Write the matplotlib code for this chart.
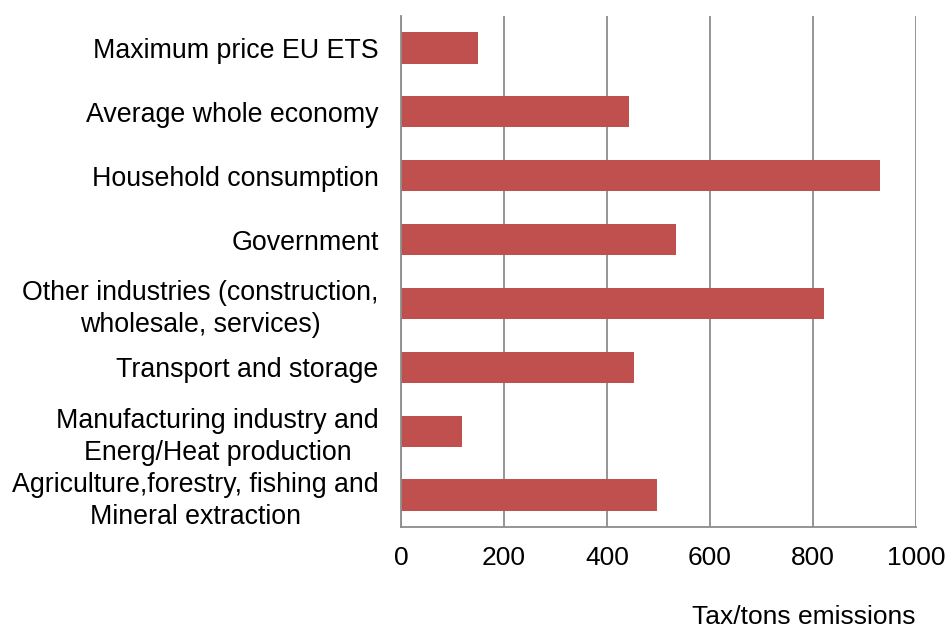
import matplotlib
matplotlib.use("Agg")
import matplotlib.pyplot as plt

categories = [
    "Maximum price EU ETS",
    "Average whole economy",
    "Household consumption",
    "Government",
    "Other industries (construction,\nwholesale, services)",
    "Transport and storage",
    "Manufacturing industry and\nEnerg/Heat production",
    "Agriculture,forestry, fishing and\nMineral extraction",
]
values = [150, 443, 930, 534, 821, 452, 118, 497]
xticks = [0, 200, 400, 600, 800, 1000]

plt.rcParams['font.family'] = ['Liberation Sans', 'DejaVu Sans']

fig = plt.figure(figsize=(9.47, 6.28), dpi=100)
ax = fig.add_axes([0.4234, 0.1608, 0.5439, 0.8137])

pos = list(range(len(categories)))
ax.barh(pos, values, height=0.49, color='#C0504D', zorder=3)

ax.set_ylim(len(categories) - 0.5, -0.5)
ax.set_xlim(0, 1000)
ax.set_yticks(pos)
ax.set_yticklabels(categories, fontsize=19.3, ha='right', multialignment='center',
                   linespacing=1.3)
ax.set_xticks(xticks)
ax.set_xticklabels([str(t) for t in xticks], fontsize=19)

ax.grid(axis='x', color='#8c8c8c', linewidth=1.3, zorder=0)
ax.tick_params(axis='y', length=0, pad=16)
ax.tick_params(axis='x', length=0, pad=14)
for s in ['top', 'right']:
    ax.spines[s].set_visible(False)
for s in ['left', 'bottom']:
    ax.spines[s].set_color('#8c8c8c')
    ax.spines[s].set_linewidth(1.3)
    ax.spines[s].set_zorder(4)

fig.text(0.967, 1 - 617 / 628, "Tax/tons emissions", fontsize=19, ha='right', va='center')

fig.savefig("out.png", dpi=100)
